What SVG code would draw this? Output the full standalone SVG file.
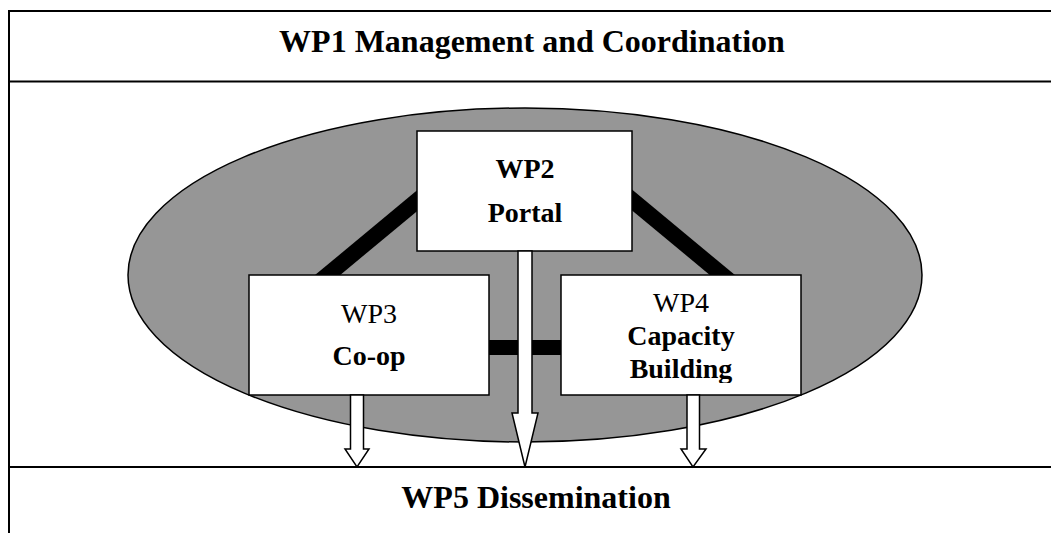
<svg xmlns="http://www.w3.org/2000/svg" width="1051" height="533" viewBox="0 0 1051 533">
  <style>
    .frame { stroke: #000; stroke-width: 2; fill: none; }
    .box { fill: #fff; stroke: #000; stroke-width: 1.5; }
    .link { stroke: #000; fill: none; }
    .arrow { fill: #fff; stroke: #000; stroke-width: 1.5; stroke-linejoin: miter; }
    text { font-family: "Liberation Serif", "Times New Roman", serif; fill: #000; text-anchor: middle; }
    .big { font-size: 32px; font-weight: bold; }
    .lbl { font-size: 28px; }
    .b { font-weight: bold; }
  </style>
  <defs>
    <clipPath id="wp4clip"><rect x="561" y="275" width="240" height="108"/></clipPath>
  </defs>
  <rect width="1051" height="533" fill="#fff"/>

  <g id="wp1">
    <line class="frame" x1="9" y1="11" x2="1051" y2="11"/>
    <line class="frame" x1="9" y1="81.5" x2="1051" y2="81.5"/>
    <line class="frame" x1="9" y1="10" x2="9" y2="533"/>
    <text class="big" x="532" y="52">WP1 Management and Coordination</text>
  </g>

  <g id="core">
    <ellipse cx="525" cy="275" rx="397" ry="167" fill="#969696" stroke="#000" stroke-width="1.5"/>
  </g>

  <g id="connectors">
    <line class="link" x1="318" y1="283" x2="430" y2="190" stroke-width="16"/>
    <line class="link" x1="732" y1="283" x2="620" y2="190" stroke-width="16"/>
    <line class="link" x1="480" y1="347.5" x2="570" y2="347.5" stroke-width="15"/>
  </g>

  <g id="wp2">
    <rect class="box" x="417" y="131" width="215" height="120"/>
    <text class="lbl b" x="525" y="178">WP2</text>
    <text class="lbl b" x="525" y="222">Portal</text>
  </g>

  <g id="wp3">
    <rect class="box" x="249" y="275" width="240" height="120"/>
    <text class="lbl" x="369" y="323">WP3</text>
    <text class="lbl b" x="369" y="365">Co-op</text>
  </g>

  <g id="wp4">
    <rect class="box" x="561" y="275" width="240" height="120"/>
    <g clip-path="url(#wp4clip)">
      <text class="lbl" x="681" y="312">WP4</text>
      <text class="lbl b" x="681" y="345">Capacity</text>
      <text class="lbl b" x="681" y="378">Building</text>
    </g>
  </g>

  <g id="arrows">
    <polygon class="arrow" points="518,251 532,251 532,413 538,413 525,467 512,413 518,413"/>
    <polygon class="arrow" points="350.5,395 363.5,395 363.5,449 369,449 357,467 345,449 350.5,449"/>
    <polygon class="arrow" points="687,395 699.5,395 699.5,449 706,449 693,467 681,449 687,449"/>
  </g>

  <g id="wp5">
    <line class="frame" x1="9" y1="467" x2="1051" y2="467"/>
    <text class="big" x="536" y="508">WP5 Dissemination</text>
  </g>
</svg>
